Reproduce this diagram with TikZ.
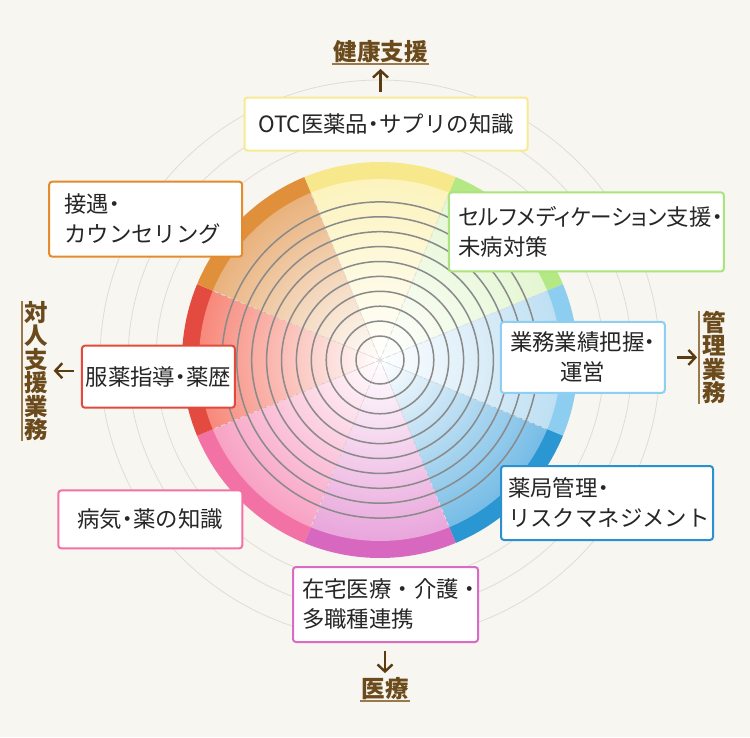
\documentclass[tikz,border=0pt]{standalone}
\usepackage{fontspec}
\setmainfont{Noto Sans CJK JP}
\usetikzlibrary{arrows.meta,positioning}

\definecolor{paper}{HTML}{F7F6F0}
\definecolor{ringgray}{HTML}{8A8A8A}
\definecolor{faintgray}{HTML}{DEDDD6}
\definecolor{labelbrown}{HTML}{6B4A1C}
\definecolor{rulebrown}{HTML}{9A7A4C}
\definecolor{arrowbrown}{HTML}{5A3B12}
% wheel sectors: outer band / inner fade
\definecolor{otcband}{HTML}{F7E98B}  \definecolor{otcfade}{HTML}{FCF3BD}
\definecolor{selfband}{HTML}{B3E885} \definecolor{selffade}{HTML}{E3F6D1}
\definecolor{gyoband}{HTML}{8DCDF0}  \definecolor{gyofade}{HTML}{BEDFF3}
\definecolor{kyokuband}{HTML}{2A96D2} \definecolor{kyokufade}{HTML}{76BCE6}
\definecolor{zaiband}{HTML}{D867BF}  \definecolor{zaifade}{HTML}{E9A6DC}
\definecolor{byoband}{HTML}{F272A5}  \definecolor{byofade}{HTML}{F8A2C4}
\definecolor{fukuband}{HTML}{E44B40} \definecolor{fukufade}{HTML}{F7897B}
\definecolor{setband}{HTML}{E0903B}  \definecolor{setfade}{HTML}{E9B27D}
% box outlines
\definecolor{otcline}{HTML}{F6EA93}
\definecolor{selfline}{HTML}{A9E47C}
\definecolor{gyoline}{HTML}{8DCFF2}
\definecolor{kyokuline}{HTML}{2A90D0}
\definecolor{zailine}{HTML}{D96BC6}
\definecolor{byoline}{HTML}{F272A4}
\definecolor{fukuline}{HTML}{E24A3C}
\definecolor{setline}{HTML}{E38B2E}

\newcommand\nakaguro{\makebox[0.5em]{・}}

\begin{document}
\begin{tikzpicture}[x=1pt, y=-1pt,
  font=\fontsize{22.4}{30}\selectfont,
  card/.style={draw=#1, fill=white, line width=2pt, rounded corners=3pt, inner ysep=0pt, text=black!85},
  category/.style={font=\fontsize{23.5}{23.5}\selectfont\bfseries, text=labelbrown, inner xsep=1pt, inner ysep=1pt},
  vcategory/.style={category, align=center, inner xsep=3pt, inner ysep=0pt},
  underrule/.style={rulebrown, line width=1.5pt},
  dirarrow/.style={-{Straight Barb[length=7pt,width=15pt]}, arrowbrown, line width=2.4pt},
  ring/.style={ringgray, line width=1.5pt},
  halo/.style={faintgray, line width=0.8pt},
  spoke/.style={gray!25, line width=0.8pt, dash pattern=on 4pt off 3pt}
]
\fill[paper] (0,0) rectangle (750,737);
\coordinate (hub) at (380,360);

% wheel
\foreach \r in {224,252,280}
  \draw[halo] (hub) circle[radius=\r];
\foreach \a/\band/\fade in {270/otcband/otcfade, 315/selfband/selffade, 0/gyoband/gyofade, 45/kyokuband/kyokufade,
                            90/zaiband/zaifade, 135/byoband/byofade, 180/fukuband/fukufade, 225/setband/setfade} {
  \fill[\band] (hub) -- ++(\a-22.5:198) arc[start angle=\a-22.5, end angle=\a+22.5, radius=198] -- cycle;
  \begin{scope}
    \clip (hub) -- ++(\a-22.5:181) arc[start angle=\a-22.5, end angle=\a+22.5, radius=181] -- cycle;
    \shade[inner color=white, outer color=\fade] (hub) circle[radius=181];
  \end{scope}
}
\foreach \a in {22.5,67.5,...,337.5}
  \draw[spoke] (hub) -- ++(\a:181);
\foreach \k [evaluate=\k as \r using 24+14.9*\k] in {0,...,9}
  \draw[ring] (hub) circle[radius=\r];

% boxes
\node[card=otcline, minimum width=283pt, minimum height=53pt, inner xsep=0pt] (otc) at (386,124) {OTC医薬品\nakaguro サプリの知識};
\node[card=setline, text width=163pt, inner xsep=15pt, minimum height=75pt, align=left] (settai) at (145.7,219.2) {接遇\nakaguro\\カウンセリング};
\node[card=selfline, text width=256pt, inner xsep=9.5pt, minimum height=79pt, align=left] (selfmed) at (586.4,231.9) {\scalebox{0.96}[1]{\addfontfeatures{CharacterWidth=AlternateProportional}セルフメディケーション}支援\nakaguro\\未病対策};
\node[card=fukuline, minimum width=153pt, minimum height=62pt, inner xsep=0pt] (fukuyaku) at (158.4,376.7) {服薬指導\nakaguro 薬歴};
\node[card=gyoline, minimum width=164pt, minimum height=71pt, inner xsep=0pt, align=center] (gyomu) at (582.8,357.4) {業務業績把握\nakaguro\\運営};
\node[card=byoline, minimum width=184pt, minimum height=58pt, inner xsep=0pt] (byoki) at (150.3,519.4) {病気\nakaguro 薬の知識};
\node[card=kyokuline, text width=198pt, inner xsep=7pt, minimum height=74pt, align=left] (yakkyoku) at (607,503) {薬局管理\nakaguro\\リスクマネジメント};
\node[card=zailine, text width=167pt, inner xsep=9pt, minimum height=75pt, align=left] (zaitaku) at (385.5,604.5) {在宅医療・介護・\\多職種連携};

% categories
\node[category] (health) at (380.5,51.5) {健康支援};
\node[category] (iryo) at (385,688.5) {医療};
\node[vcategory] (taijin) at (36.7,371.3) {対\\人\\支\\援\\業\\務};
\node[vcategory] (kanri) at (714,357.4) {管\\理\\業\\務};

\draw[underrule] (health.south west) -- (health.south east);
\draw[underrule] (iryo.south west) -- (iryo.south east);
\draw[underrule] (taijin.north west) -- (taijin.south west);
\draw[underrule] (kanri.north west) -- (kanri.south west);

\coordinate (leftcue) at ([yshift=6pt]fukuyaku.west);
\draw[dirarrow, shorten <=5pt, shorten >=5pt] (health.south |- otc.north) -- (health.south);
\draw[dirarrow, shorten <=8pt, shorten >=3pt] (iryo.north |- zaitaku.south) -- (iryo.north);
\draw[dirarrow, shorten <=7pt, shorten >=2pt] (leftcue) -- (leftcue -| taijin.east);
\draw[dirarrow, shorten <=11pt, shorten >=2pt] (gyomu.east) -- (gyomu.east -| kanri.west);
\end{tikzpicture}
\end{document}
